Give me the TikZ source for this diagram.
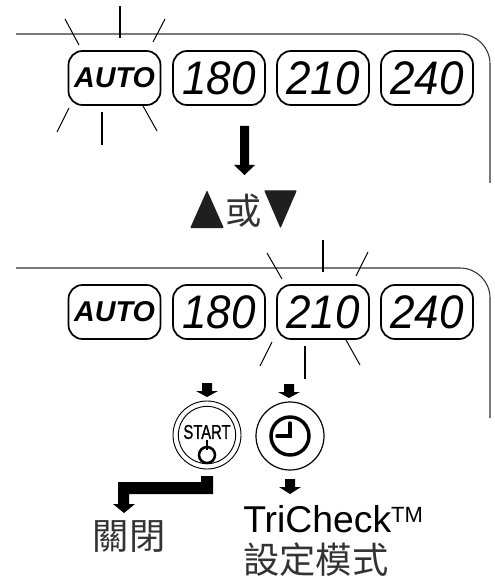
\documentclass[tikz,border=0pt]{standalone}
\usepackage{fontspec}
\setmainfont{Liberation Sans}
\newfontfamily\cjk{Noto Sans CJK TC}
\newfontfamily\startfont[FakeBold=1.2]{Liberation Sans}
\newcommand{\numlabel}[1]{\scalebox{1}[1.07]{\fontsize{33}{33}\itshape\selectfont #1}}
\tikzset{
 x=0.75pt,y=-0.75pt,
 keybox/.style={draw=black,line width=1.3pt,rounded corners=10.5pt,minimum width=69pt,minimum height=40.5pt,inner sep=0pt,text=black},
 autotxt/.style={font=\fontsize{21.5}{22}\bfseries\itshape\selectfont},
 ray/.style={line width=0.75pt,black},
 rayb/.style={line width=1.3pt,black},
 panel/.style={line width=0.8pt,draw=black!80},
 cjktxt/.style={font=\cjk\fontsize{27.2}{27.2}\selectfont,inner sep=0pt,text=black!80},
 latin/.style={font=\fontsize{28}{28}\selectfont,inner sep=0pt,anchor=base west},
 solidtri/.style={fill=black!88,draw=black!88,line width=0.8pt,line join=round},
}
\newcommand{\dnarrow}[6]{% x, shaft top, head start, tip, half shaft, half head
 \fill[black] (#1-#5,#2) -- (#1+#5,#2) -- (#1+#5,#3) -- (#1+#6,#3) -- (#1,#4) -- (#1-#6,#3) -- (#1-#5,#3) -- cycle;}
\begin{document}
\begin{tikzpicture}
\useasboundingbox (0,0) rectangle (495,577);
\fill[white] (0,0) rectangle (495,577);
% panels
\draw[panel] (16,34) -- (460,34) arc[start angle=90,end angle=0,x radius=30,y radius=-30] -- (490,183);
\draw[panel] (16,268) -- (460,268) arc[start angle=90,end angle=0,x radius=30,y radius=-30] -- (490,418);
% row 1
\node[keybox,autotxt] (a1) at (114.5,78) {AUTO};
\node[keybox] (b1) at (219,78) {\numlabel{180}};
\node[keybox] (c1) at (323,78) {\numlabel{210}};
\node[keybox] (d1) at (427,78) {\numlabel{240}};
% row 2
\node[keybox,autotxt] (a2) at (114.5,312) {AUTO};
\node[keybox] (b2) at (219,312) {\numlabel{180}};
\node[keybox] (c2) at (323,312) {\numlabel{210}};
\node[keybox] (d2) at (427,312) {\numlabel{240}};
% rays 1
\draw[ray] (65,19) -- (79,45);
\draw[rayb] (120,6) -- (120,38);
\draw[ray] (165,19) -- (153,42);
\draw[ray] (69,108) -- (57,132);
\draw[rayb] (102,112) -- (102,145);
\draw[ray] (143,106) -- (157,131);
% rays 2
\draw[ray] (267,253) -- (282,279);
\draw[rayb] (323,240) -- (323,272);
\draw[ray] (368,252) -- (356,276);
\draw[ray] (272,342) -- (260,366);
\draw[rayb] (305,346) -- (305,379);
\draw[ray] (346,340) -- (360,365);
% big arrow
\dnarrow{244.5}{126}{165}{175}{4.5}{10.5}
% triangle pair
\draw[solidtri] (207,191.5) -- (223,227.5) -- (191,227.5) -- cycle;
\node[cjktxt] (or) at (244,211) {或};
\draw[solidtri] (265,191) -- (296,191) -- (280.5,227) -- cycle;
% small arrows
\dnarrow{207}{383}{391}{397}{5}{11}
\dnarrow{289}{384}{392}{398}{5}{11}
\dnarrow{290}{479}{487}{494}{5}{11}
% start button
\node[circle,draw,line width=0.7pt,minimum size=51pt,inner sep=0pt] (st) at (207,435) {};
\node[circle,draw,line width=0.7pt,minimum size=43pt,inner sep=0pt] at (207,435) {};
\node[inner sep=0pt] (sttxt) at (207,432) {\scalebox{0.74}[1]{\startfont\fontsize{15}{15}\selectfont START}};
\draw[line width=1.9pt] (207,440) -- (207,450);
\draw[line width=1.9pt] (207,455) circle[radius=8];
% clock button
\node[circle,draw,line width=0.9pt,minimum size=51pt,inner sep=0pt] (cl) at (290,436) {};
\draw[line width=2.6pt] (290,436) circle[radius=19];
\draw[line width=2.6pt,line cap=round] (290,423) -- (290,436) -- (277,436);
% elbow
\fill[black] (201,476) -- (213,476) -- (213,494) -- (129,494) -- (129,504) -- (135,504) -- (124,513) -- (113,504) -- (118,504) -- (118,482) -- (201,482) -- cycle;
% labels
\node[latin] (tc) at (243,532) {TriCheck\raisebox{7.5pt}{\fontsize{16.5}{16.5}\selectfont TM}};
\node[cjktxt,anchor=west] (set) at (243,560) {設定模式};
\node[cjktxt] (off) at (129,537) {關閉};
\end{tikzpicture}
\end{document}
